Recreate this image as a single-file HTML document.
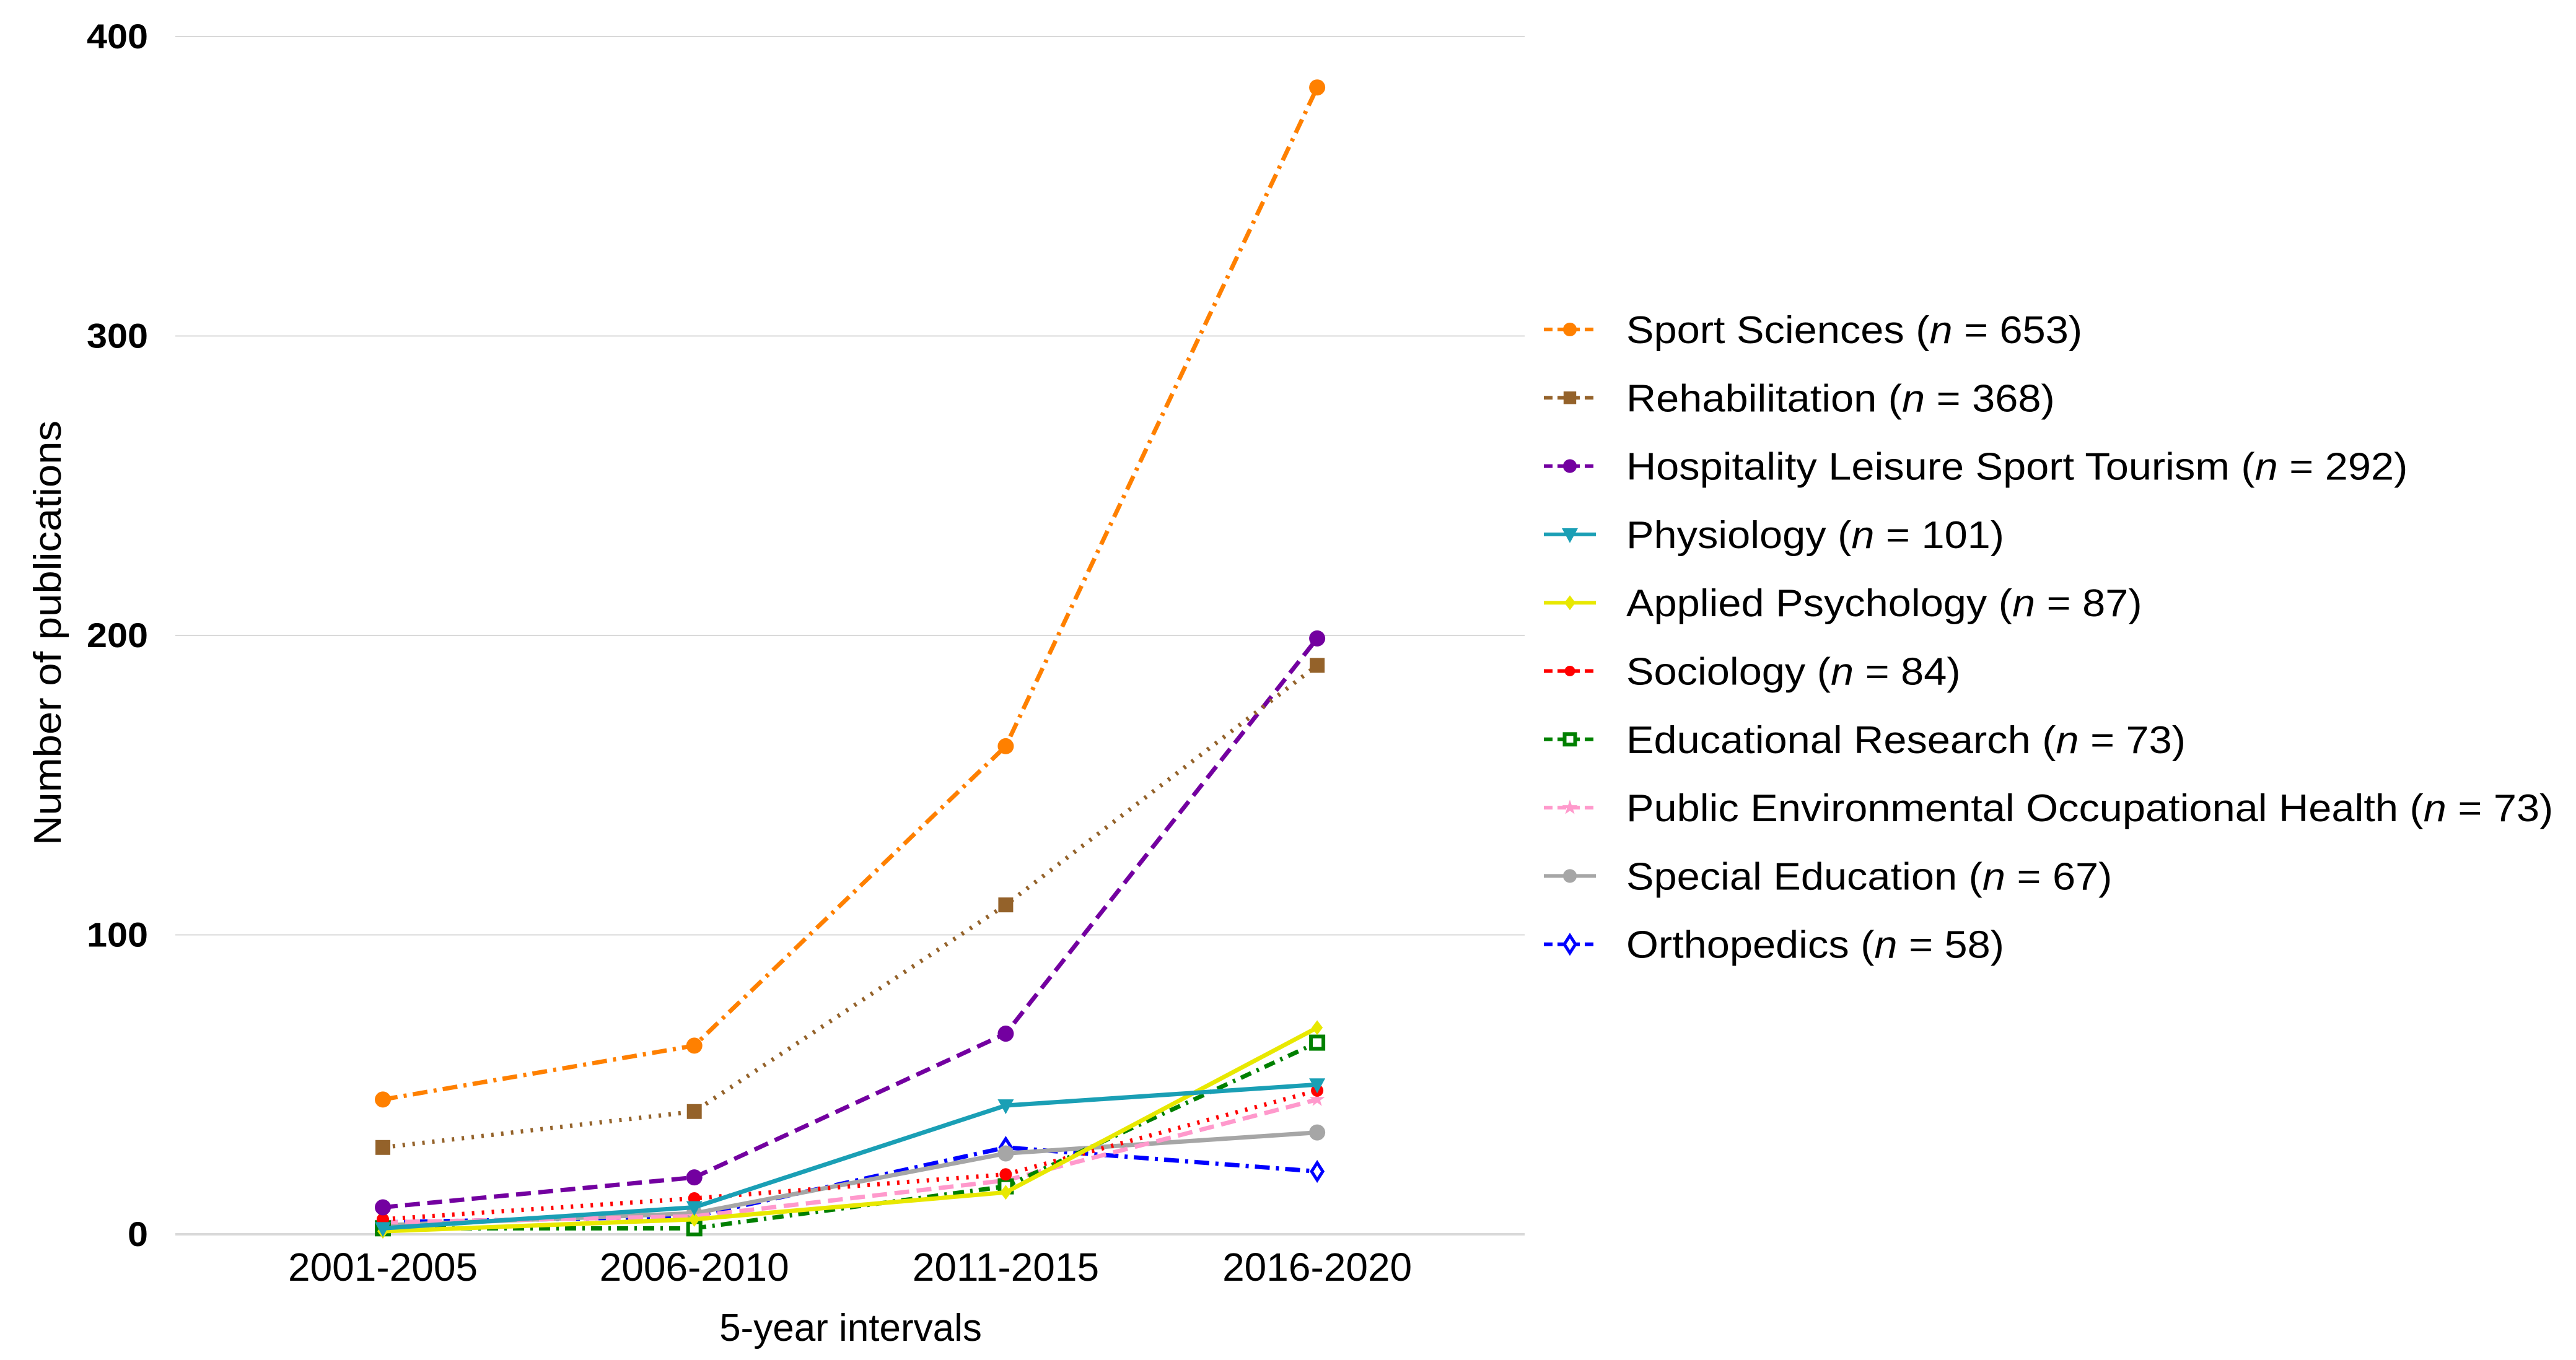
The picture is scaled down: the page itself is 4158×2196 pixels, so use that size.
<!DOCTYPE html>
<html><head><meta charset="utf-8"><style>
html,body{margin:0;padding:0;background:#fff;}
svg{display:block;font-family:"Liberation Sans",Arial,sans-serif;}
</style></head><body>
<svg id="chart" width="4158" height="2196" viewBox="0 0 4158 2196" xmlns="http://www.w3.org/2000/svg">
<g id="grid"></g>
<g id="yticks"></g>
<g id="xticks"></g>
<text transform="translate(98,1022) rotate(-90)" text-anchor="middle" font-size="62" textLength="686" lengthAdjust="spacingAndGlyphs">Number of publications</text>
<text x="1373" y="2165" text-anchor="middle" font-size="62">5-year intervals</text>
<g id="series"></g>
<g id="legend"></g>
</svg>
<script>
const categories = ["2001-2005","2006-2010","2011-2015","2016-2020"];
const yTicks = [0,100,200,300,400];
const seriesNames = ["Sport Sciences","Rehabilitation","Hospitality Leisure Sport Tourism","Physiology","Applied Psychology","Sociology","Educational Research","Public Environmental Occupational Health","Special Education","Orthopedics"];
const seriesN = ["653","368","292","101","87","84","73","73","67","58"];
const sportSciences = [45,63,163,383];
const rehabilitation = [29,41,110,190];
const hospitality = [9,19,67,199];
const physiology = [2,9,43,50];
const appliedPsychology = [1,5,14,69];
const sociology = [5,12,20,48];
const educationalResearch = [2,2,16,64];
const publicHealth = [4,6,18,45];
const specialEducation = [3,7,27,34];
const orthopedics = [4,6,29,21];

const seriesValues = [sportSciences,rehabilitation,hospitality,physiology,appliedPsychology,sociology,educationalResearch,publicHealth,specialEducation,orthopedics];
const styles = [
 {c:"#FF8000",d:"24 10 5 10",m:"circle"},
 {c:"#94622A",d:"4 12",m:"square"},
 {c:"#7300A0",d:"24 12",m:"circle"},
 {c:"#1A9FB5",d:"",m:"tri"},
 {c:"#E8E800",d:"",m:"diamondSmall"},
 {c:"#FF0000",d:"4 12",m:"circleSmall"},
 {c:"#008000",d:"18 10 4 10",m:"squareOpen"},
 {c:"#FF99CC",d:"24 12",m:"star"},
 {c:"#A6A6A6",d:"",m:"circle"},
 {c:"#0000FF",d:"24 10 5 10",m:"diamondOpen"}
];
const NS="http://www.w3.org/2000/svg";
const x0=618, xStep=502.7, y0=1993, yMax=59;
function xPos(i){return x0+i*xStep;}
function yPos(v){return y0-(v/400)*(y0-yMax);}
function mk(tag,attrs,parent){const e=document.createElementNS(NS,tag);for(const k in attrs)e.setAttribute(k,attrs[k]);parent.appendChild(e);return e;}

const grid=document.getElementById('grid'), yt=document.getElementById('yticks'), xt=document.getElementById('xticks');
yTicks.forEach(t=>{
  const l=mk('line',{x1:283,x2:2461,y1:yPos(t),y2:yPos(t),stroke:"#d9d9d9","stroke-width":t===0?4:2},grid);
  
  
  const tx=mk('text',{x:239,y:yPos(t)+19,"text-anchor":"end","font-size":56,"font-weight":"bold",textLength:String(t).length*33,lengthAdjust:"spacingAndGlyphs"},yt);
  tx.textContent=t;
  
  
});
categories.forEach((c,i)=>{
  const tx=mk('text',{x:xPos(i),y:2068,"text-anchor":"middle","font-size":64},xt);
  tx.textContent=c;
  
  
});

function marker(type,cx,cy,col,parent,s){
  s=s||1;let e;
  if(type==="circle") e=mk('ellipse',{cx,cy,rx:13*s,ry:13*s,fill:col},parent);
  else if(type==="circleSmall") e=mk('circle',{cx,cy,r:10*s,fill:col},parent);
  else if(type==="square") e=mk('rect',{x:cx-12*s,y:cy-12*s,width:24*s,height:24*s,fill:col},parent);
  else if(type==="squareOpen") e=mk('rect',{x:cx-10*s,y:cy-10*s,width:20*s,height:20*s,fill:"#fff",stroke:col,"stroke-width":6},parent);
  else if(type==="tri") e=mk('polygon',{points:`${cx-13},${cy-10} ${cx+13},${cy-10} ${cx},${cy+14}`,fill:col},parent);
  else if(type==="diamondSmall") e=mk('polygon',{points:`${cx},${cy-12} ${cx+9},${cy} ${cx},${cy+12} ${cx-9},${cy}`,fill:col},parent);
  else if(type==="diamondOpen") e=mk('polygon',{points:`${cx},${cy-14} ${cx+9},${cy} ${cx},${cy+14} ${cx-9},${cy}`,fill:"#fff",stroke:col,"stroke-width":5},parent);
  else if(type==="star"){let p=[];for(let k=0;k<10;k++){const r=k%2?5:13;const a=-Math.PI/2+k*Math.PI/5;p.push((cx+r*Math.cos(a)).toFixed(1)+","+(cy+r*Math.sin(a)).toFixed(1));}e=mk('polygon',{points:p.join(' '),fill:col},parent);}
  return e;
}

const sg=document.getElementById('series');
for(let s=seriesValues.length-1;s>=0;s--){
  const st=styles[s];
  const g=mk('g',{},sg);
  
  
  const pts=seriesValues[s].map((v,i)=>xPos(i)+","+yPos(v)).join(' ');
  const pl=mk('polyline',{points:pts,fill:"none",stroke:st.c,"stroke-width":7,"stroke-dasharray":st.d,"stroke-linejoin":"round"},g);
  
  
  seriesValues[s].forEach((v,i)=>{
    const m=marker(st.m,xPos(i),yPos(v),st.c,g);
    
    
  });
}

const lg=document.getElementById('legend');
seriesNames.forEach((n,s)=>{
  const st=styles[s], y=532+s*110.3;
  const g=mk('g',{},lg);
  
  
  mk('line',{x1:2492,x2:2576,y1:y,y2:y,stroke:st.c,"stroke-width":6,"stroke-dasharray":st.d?"14 8":""},g);
  marker(st.m,2534,y,st.c,g,0.85);
  const t=mk('text',{x:2625,y:y+22,"font-size":62},g);
  t.innerHTML=n+' (<tspan font-style="italic">n</tspan> = '+seriesN[s]+')';
  const w=t.getComputedTextLength();
  t.setAttribute('textLength',(w*1.076).toFixed(1));
  t.setAttribute('lengthAdjust','spacingAndGlyphs');
});
</script>
</body></html>
